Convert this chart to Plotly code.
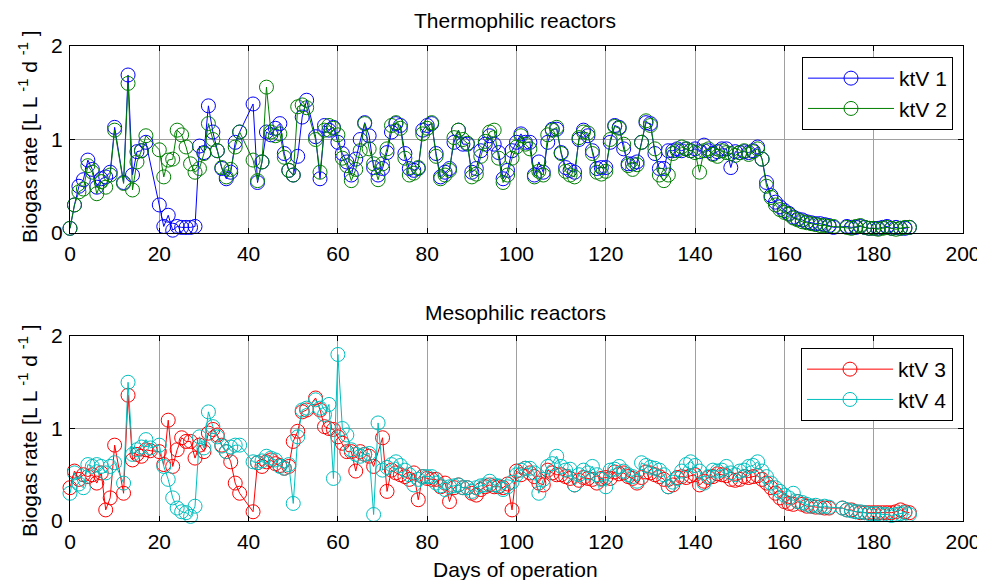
import plotly.graph_objects as go

DAYS = list(range(189))

KTV1 = [0.05, 0.30, 0.50, 0.57, 0.78, 0.68, 0.49, 0.58, 0.60, 0.65,
        1.13, None, 0.54, 1.69, 0.62, 0.87, 0.88, 0.97, None, None,
        0.30, 0.07, 0.19, 0.03, 0.07, 0.06, 0.06, 0.06, 0.07, 0.93,
        0.86, 1.36, 1.08, 0.88, 0.69, 0.58, 0.65, 0.97, 1.08, None,
        None, 1.38, 0.54, 0.76, 1.08, 1.05, 1.12, 1.17, 0.85, 0.67,
        0.62, 0.82, 1.24, 1.42, None, 1.03, 0.58, 1.15, 1.10, 1.13,
        0.97, 0.85, 0.76, 0.62, 0.79, 1.00, 1.18, 1.04, 0.70, 0.62,
        0.69, 0.86, 1.08, 1.17, 1.15, 0.85, 0.69, 0.67, 0.69, 1.10,
        1.15, 1.17, 0.85, 0.60, 0.65, 0.69, 0.97, 1.10, 0.95, 0.95,
        0.65, 0.69, 0.88, 0.95, 1.04, 0.95, 0.86, 0.58, 0.67, 0.88,
        0.97, 1.06, 0.97, 0.97, 0.62, 0.76, 0.65, 0.97, 1.11, 1.11,
        0.86, 0.70, 0.67, 0.65, 1.00, 1.10, 1.04, 0.88, 0.69, 0.70,
        0.70, 0.97, 1.15, 1.13, 0.90, 0.74, 0.74, 0.76, 0.97, 1.18,
        1.17, 0.85, 0.69, 0.69, 0.88, 0.88, 0.90, 0.88, 0.90, 0.88,
        0.90, 0.87, 0.94, 0.88, 0.85, 0.87, 0.90, 0.90, 0.70, 0.87,
        0.86, 0.87, 0.86, 0.88, 0.92, 0.79, 0.54, 0.40, 0.33, 0.28,
        0.24, 0.21, 0.17, 0.15, 0.14, 0.12, 0.11, 0.10, 0.10, 0.09,
        0.08, 0.06, None, None, 0.07, 0.06, 0.06, 0.07, 0.06, 0.05,
        0.05, 0.05, 0.06, 0.07, 0.05, 0.06, 0.05, 0.05, 0.06]

KTV2 = [0.05, 0.30, 0.44, 0.47, 0.72, 0.65, 0.42, 0.55, 0.49, 0.62,
        1.10, None, 0.53, 1.60, 0.46, 0.76, 0.88, 1.04, None, None,
        0.89, 0.60, 0.78, 0.79, 1.10, 1.05, 0.92, 0.74, 0.65, 0.69,
        0.85, 1.17, 1.00, 0.88, 0.70, 0.60, 0.68, 0.92, 1.08, None,
        None, 0.78, 0.56, 0.76, 1.56, 1.08, 1.04, 1.06, 0.81, 0.67,
        0.62, 1.35, 1.37, 1.34, None, 1.00, 0.65, 1.10, 1.15, 1.12,
        1.05, 0.80, 0.72, 0.56, 0.68, 0.88, 1.17, 0.90, 0.74, 0.57,
        0.74, 0.90, 1.15, 1.18, 1.12, 0.80, 0.62, 0.64, 0.70, 1.06,
        1.12, 1.18, 0.82, 0.58, 0.62, 0.67, 1.02, 1.10, 1.00, 0.96,
        0.60, 0.63, 0.82, 0.98, 1.08, 1.10, 0.80, 0.54, 0.62, 0.80,
        0.92, 1.04, 0.95, 0.90, 0.60, 0.66, 0.62, 1.05, 1.10, 1.13,
        0.85, 0.66, 0.62, 0.60, 1.02, 1.08, 1.07, 0.85, 0.65, 0.63,
        0.66, 1.00, 1.14, 1.12, 0.95, 0.72, 0.68, 0.73, 0.97, 1.20,
        1.15, 0.90, 0.62, 0.56, 0.62, 0.85, 0.88, 0.92, 0.90, 0.88,
        0.86, 0.65, 0.88, 0.90, 0.84, 0.82, 0.88, 0.86, 0.85, 0.83,
        0.86, 0.88, 0.84, 0.87, 0.90, 0.79, 0.50, 0.38, 0.30, 0.25,
        0.22, 0.20, 0.16, 0.14, 0.12, 0.11, 0.10, 0.09, 0.08, 0.08,
        0.07, 0.07, None, None, 0.06, 0.05, 0.07, 0.08, 0.06, 0.05,
        0.05, 0.04, 0.05, 0.06, 0.05, 0.04, 0.05, 0.06, 0.06]

KTV3 = [0.36, 0.54, 0.45, 0.50, 0.48, 0.50, 0.41, 0.52, 0.12, 0.25,
        0.82, None, 0.30, 1.36, 0.66, 0.72, 0.70, 0.77, 0.76, None,
        0.75, 0.61, 1.09, 0.59, 0.77, 0.90, 0.86, 0.86, 0.68, 0.82,
        0.75, 0.95, 0.99, 0.93, 0.82, 0.75, 0.64, 0.41, 0.30, None,
        None, 0.10, 0.63, 0.59, 0.64, 0.66, 0.62, 0.60, 0.57, 0.59,
        0.86, 0.97, 1.18, 1.20, None, 1.33, 1.20, 1.02, 1.00, 0.99,
        0.91, 0.84, 0.75, 0.75, 0.54, 0.75, 0.72, 0.70, 0.59, None,
        0.90, 0.32, 0.55, 0.52, 0.50, 0.48, 0.45, 0.52, 0.23, 0.48,
        0.46, 0.45, 0.45, 0.37, 0.41, 0.21, 0.36, 0.39, 0.36, 0.36,
        0.30, 0.28, 0.34, 0.37, 0.39, 0.37, 0.37, 0.36, 0.40, 0.12,
        0.54, 0.50, 0.57, 0.52, 0.48, 0.41, 0.39, 0.55, 0.52, 0.50,
        0.50, 0.48, 0.46, 0.39, 0.44, 0.47, 0.46, 0.45, 0.41, 0.46,
        0.47, 0.46, 0.53, 0.51, 0.52, 0.48, 0.46, 0.41, 0.47, 0.53,
        0.52, 0.50, 0.48, 0.45, 0.37, 0.39, 0.47, 0.48, 0.47, 0.49,
        0.50, 0.39, 0.43, 0.47, 0.48, 0.51, 0.50, 0.49, 0.45, 0.44,
        0.45, 0.48, 0.47, 0.48, 0.49, 0.45, 0.41, 0.36, 0.30, 0.25,
        0.21, 0.19, 0.18, 0.21, 0.18, 0.16, 0.16, 0.15, 0.15, 0.14,
        0.14, None, None, 0.14, 0.12, 0.12, 0.10, 0.09, 0.09, 0.09,
        0.09, 0.09, 0.09, 0.09, 0.09, 0.10, 0.12, 0.10, 0.09]

KTV4 = [0.30, 0.52, 0.40, 0.36, 0.61, 0.59, 0.61, 0.59, 0.52, 0.59,
        0.63, None, 0.41, 1.50, 0.72, 0.77, 0.80, 0.88, 0.79, None,
        0.82, 0.59, 0.45, 0.25, 0.14, 0.10, 0.09, 0.05, 0.16, 0.91,
        0.79, 1.18, 1.02, 0.91, 0.81, 0.75, 0.80, 0.82, 0.82, None,
        None, 0.64, 0.63, 0.65, 0.70, 0.68, 0.66, 0.59, 0.57, 0.61,
        0.19, 0.91, 1.20, 1.22, None, 1.31, 1.22, 1.15, 1.26, 0.46,
        1.80, 1.00, 0.93, 0.77, 0.72, 0.70, 0.72, 0.73, 0.07, 1.06,
        0.55, 0.58, 0.61, 0.64, 0.60, 0.55, 0.50, 0.39, 0.45, 0.48,
        0.48, 0.48, 0.41, 0.38, 0.34, 0.37, 0.38, 0.39, 0.36, 0.36,
        0.32, 0.36, 0.38, 0.39, 0.43, 0.39, 0.38, 0.34, 0.37, 0.42,
        0.50, 0.55, 0.57, 0.57, 0.52, 0.30, 0.45, 0.59, 0.62, 0.70,
        0.59, 0.55, 0.56, 0.39, 0.50, 0.55, 0.52, 0.59, 0.50, 0.45,
        0.37, 0.55, 0.56, 0.59, 0.54, 0.50, 0.48, 0.43, 0.63, 0.60,
        0.58, 0.57, 0.55, 0.50, 0.37, 0.42, 0.46, 0.54, 0.61, 0.64,
        0.60, 0.54, 0.41, 0.48, 0.55, 0.54, 0.55, 0.59, 0.52, 0.50,
        0.54, 0.55, 0.59, 0.60, 0.64, 0.54, 0.48, 0.41, 0.36, 0.32,
        0.28, 0.25, 0.30, 0.21, 0.20, 0.18, 0.16, 0.17, 0.15, 0.16,
        0.15, None, None, 0.14, 0.12, 0.11, 0.10, 0.10, 0.09, 0.08,
        0.08, 0.08, 0.07, 0.07, 0.06, 0.07, 0.08, 0.09, 0.07]

X_TICKS = [0, 20, 40, 60, 80, 100, 120, 140, 160, 180, 200]
Y_TICKS = [0, 1, 2]

FONT = "Liberation Sans, Arial, sans-serif"
FS = 21
W, H = 985, 580
OFF = 8  # page body margin offset in the browser


def px(p):
    return (p - OFF) / W


def py(p):
    return 1 - (p - OFF) / H


def series(y, name, color, xa, ya, legend):
    return go.Scatter(
        x=DAYS, y=y, name=name, mode="lines+markers", connectgaps=True,
        xaxis=xa, yaxis=ya, legend=legend, legendgroup=name,
        cliponaxis=False,
        line=dict(color=color, width=1),
        marker=dict(symbol="circle-open", size=14, color=color,
                    line=dict(color=color, width=1)),
    )


fig = go.Figure()
fig.add_trace(series(KTV1, "ktV 1", "#0000FF", "x", "y", "legend"))
fig.add_trace(series(KTV2, "ktV 2", "#008000", "x", "y", "legend"))
fig.add_trace(series(KTV3, "ktV 3", "#FF0000", "x2", "y2", "legend2"))
fig.add_trace(series(KTV4, "ktV 4", "#00BFBF", "x2", "y2", "legend2"))

xdom = [px(70), px(963)]
top_dom = [py(233), py(46)]
bot_dom = [py(521), py(336)]

axis_common = dict(
    ticks="inside", ticklen=5, tickcolor="black", showline=True,
    linecolor="black", linewidth=1, mirror="allticks", showgrid=True,
    gridcolor="#a0a0a0", gridwidth=1, zeroline=False, automargin=False,
    ticklabelstandoff=2,
    tickfont=dict(family=FONT, size=FS, color="black"),
)

legend_common = dict(
    xanchor="right", yanchor="top", bgcolor="white", bordercolor="black",
    borderwidth=1, font=dict(family=FONT, size=FS), itemwidth=86,
    tracegroupgap=0,
)

fig.update_layout(
    width=W, height=H,
    margin=dict(l=0, r=0, t=0, b=0, autoexpand=False),
    paper_bgcolor="white", plot_bgcolor="white",
    font=dict(family=FONT, color="black"),
    xaxis=dict(domain=xdom, range=[0, 200], tickvals=X_TICKS,
               anchor="y", **axis_common),
    yaxis=dict(domain=top_dom, range=[0, 2], tickvals=Y_TICKS,
               anchor="x", **axis_common),
    xaxis2=dict(domain=xdom, range=[0, 200], tickvals=X_TICKS,
                anchor="y2", **axis_common),
    yaxis2=dict(domain=bot_dom, range=[0, 2], tickvals=Y_TICKS,
                anchor="x2", **axis_common),
    legend=dict(x=px(953), y=py(57), **legend_common),
    legend2=dict(x=px(953), y=py(348), **legend_common),
    showlegend=True,
)

YLABEL = "Biogas rate [L L <sup>-1</sup> d <sup>-1</sup> ]"
annos = [
    dict(text="Thermophilic reactors", x=px(515), y=py(20)),
    dict(text="Mesophilic reactors", x=px(515), y=py(312)),
    dict(text="Days of operation", x=px(515), y=py(569)),
    dict(text=YLABEL, x=px(28), y=py(137), textangle=-90),
    dict(text=YLABEL, x=px(28), y=py(431), textangle=-90),
]
for a in annos:
    fig.add_annotation(xref="paper", yref="paper", showarrow=False,
                       xanchor="center", yanchor="middle",
                       font=dict(family=FONT, size=FS, color="black"), **a)

fig.write_html("out.html")
